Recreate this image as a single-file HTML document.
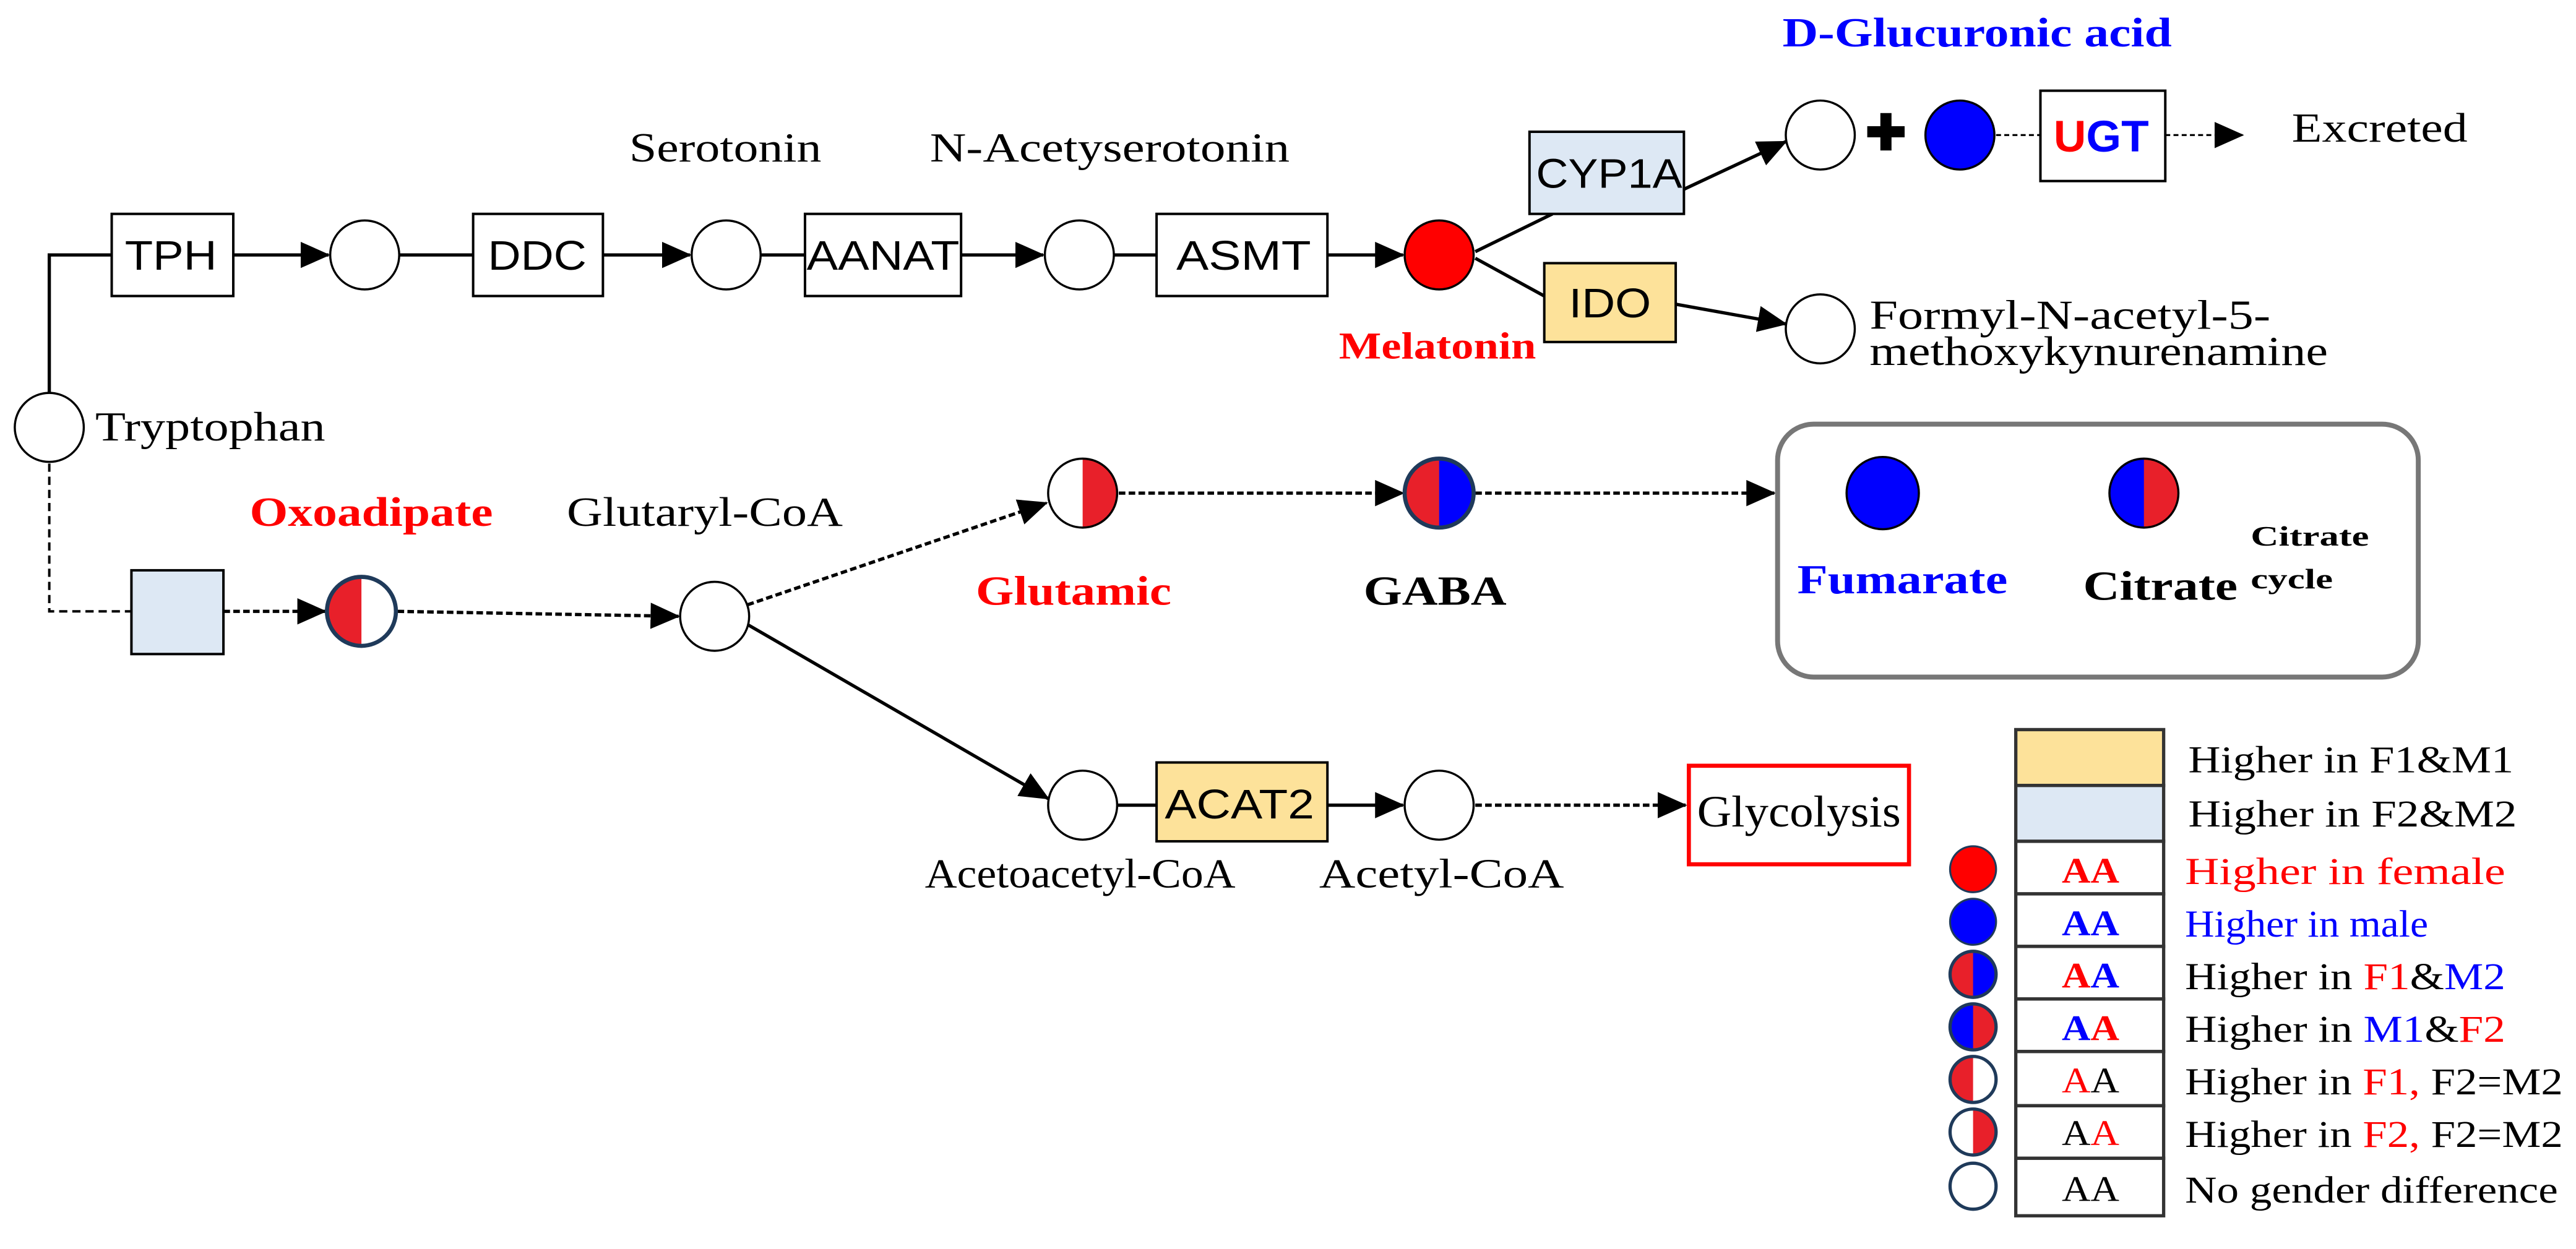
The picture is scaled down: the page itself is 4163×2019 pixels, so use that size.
<!DOCTYPE html>
<html><head><meta charset="utf-8"><style>
html,body{margin:0;padding:0;background:#fff;}
svg{display:block;}
.s{font-family:"Liberation Serif",serif;}
.a{font-family:"Liberation Sans",sans-serif;}
</style></head><body>
<svg width="4163" height="2019" viewBox="0 0 1568 760" xmlns="http://www.w3.org/2000/svg">
<defs>
<marker id="a2" markerWidth="18" markerHeight="16" refX="17" refY="8" orient="auto" markerUnits="userSpaceOnUse">
<path d="M0,0 L18,8 L0,16 Z" fill="#000"/></marker>
</defs>
<g stroke="#000" stroke-width="2" fill="none">
<polyline points="30,239 30,155 68,155"/>
<line x1="142" y1="155" x2="200" y2="155" marker-end="url(#a2)"/>
<line x1="243" y1="155" x2="288" y2="155"/>
<line x1="367" y1="155" x2="420" y2="155" marker-end="url(#a2)"/>
<line x1="463" y1="155" x2="490" y2="155"/>
<line x1="585" y1="155" x2="635" y2="155" marker-end="url(#a2)"/>
<line x1="678" y1="155" x2="704" y2="155"/>
<line x1="808" y1="155" x2="854" y2="155" marker-end="url(#a2)"/>
<line x1="898" y1="153" x2="945" y2="130"/>
<line x1="898" y1="157" x2="940" y2="180"/>
<line x1="1025" y1="115" x2="1087" y2="86" marker-end="url(#a2)"/>
<line x1="1020" y1="185" x2="1087" y2="197" marker-end="url(#a2)"/>
<line x1="1215" y1="82" x2="1242" y2="82" stroke-width="1.2" stroke-dasharray="3,2"/>
<line x1="1318" y1="82" x2="1365" y2="82" stroke-width="1.2" stroke-dasharray="3,2" marker-end="url(#a2)"/>
<polyline points="30,282 30,372 80,372" stroke-width="1.5" stroke-dasharray="5,3"/>
<line x1="136" y1="372" x2="198" y2="372" stroke-dasharray="4,2" marker-end="url(#a2)"/>
<line x1="242" y1="372" x2="413" y2="375" stroke-dasharray="4,2" marker-end="url(#a2)"/>
<line x1="455" y1="368" x2="637" y2="306" stroke-dasharray="4,2" marker-end="url(#a2)"/>
<line x1="681" y1="300" x2="854" y2="300" stroke-dasharray="4,2" marker-end="url(#a2)"/>
<line x1="898" y1="300" x2="1080" y2="300" stroke-dasharray="4,2" marker-end="url(#a2)"/>
<line x1="455" y1="380" x2="638" y2="486" marker-end="url(#a2)"/>
<line x1="680" y1="490" x2="704" y2="490"/>
<line x1="808" y1="490" x2="854" y2="490" marker-end="url(#a2)"/>
<line x1="898" y1="490" x2="1026" y2="490" stroke-dasharray="4,2" marker-end="url(#a2)"/>
</g>
<g stroke="#000" stroke-width="1.5">
<rect x="68" y="130" width="74" height="50" fill="#fff"/>
<rect x="288" y="130" width="79" height="50" fill="#fff"/>
<rect x="490" y="130" width="95" height="50" fill="#fff"/>
<rect x="704" y="130" width="104" height="50" fill="#fff"/>
<rect x="931" y="80" width="94" height="50" fill="#dde8f4"/>
<rect x="940" y="160" width="80" height="48" fill="#fde29a"/>
<rect x="1242" y="55" width="76" height="55" fill="#fff"/>
<rect x="80" y="347" width="56" height="51" fill="#dde8f4"/>
<rect x="704" y="464" width="104" height="48" fill="#fde29a"/>
</g>
<rect x="1028" y="466" width="134" height="60" fill="#fff" stroke="#f00" stroke-width="2.5"/>
<rect x="1082" y="258" width="390" height="154" rx="22" fill="#fff" stroke="#777" stroke-width="3"/>
<g stroke="#000" stroke-width="1.3" fill="#fff">
<circle cx="30" cy="260" r="21"/>
<circle cx="222" cy="155" r="21"/>
<circle cx="442" cy="155" r="21"/>
<circle cx="657" cy="155" r="21"/>
<circle cx="876" cy="155" r="21" fill="#f00"/>
<circle cx="1108" cy="82" r="21"/>
<circle cx="1193" cy="82" r="21" fill="#00f"/>
<circle cx="1108" cy="200" r="21"/>
<circle cx="435" cy="375" r="21"/>
<circle cx="659" cy="490" r="21"/>
<circle cx="876" cy="490" r="21"/>
<circle cx="1146" cy="300" r="22" fill="#00f"/>
</g>
<g>
<circle cx="220" cy="372" r="21" fill="#fff"/><path d="M220,351 A21,21 0 0 0 220,393 Z" fill="#e8202a"/><circle cx="220" cy="372" r="21" fill="none" stroke="#1f3a5a" stroke-width="2.5"/>
<circle cx="659" cy="300" r="21" fill="#fff"/><path d="M659,279 A21,21 0 0 1 659,321 Z" fill="#e8202a"/><circle cx="659" cy="300" r="21" fill="none" stroke="#000" stroke-width="1.3"/>
<circle cx="876" cy="300" r="21" fill="#00f"/><path d="M876,279 A21,21 0 0 0 876,321 Z" fill="#e8202a"/><circle cx="876" cy="300" r="21" fill="none" stroke="#1f3a5a" stroke-width="2.5"/>
<circle cx="1305" cy="300" r="21" fill="#e8202a"/><path d="M1305,279 A21,21 0 0 0 1305,321 Z" fill="#00f"/><circle cx="1305" cy="300" r="21" fill="none" stroke="#000" stroke-width="1.3"/>
</g>
<text x="1148" y="91" font-size="30" font-weight="bold" text-anchor="middle" class="a">✚</text>
<g class="a" font-size="25">
<text x="76" y="164" textLength="56" lengthAdjust="spacingAndGlyphs">TPH</text>
<text x="297" y="164" textLength="60" lengthAdjust="spacingAndGlyphs">DDC</text>
<text x="491" y="164" textLength="93" lengthAdjust="spacingAndGlyphs">AANAT</text>
<text x="716" y="164" textLength="82" lengthAdjust="spacingAndGlyphs">ASMT</text>
<text x="935" y="114" textLength="89" lengthAdjust="spacingAndGlyphs">CYP1A</text>
<text x="955" y="193" textLength="50" lengthAdjust="spacingAndGlyphs">IDO</text>
<text x="709" y="498" textLength="91" lengthAdjust="spacingAndGlyphs">ACAT2</text>
<text x="1250" y="92" font-size="27" font-weight="bold" textLength="58" lengthAdjust="spacingAndGlyphs"><tspan fill="#f00">U</tspan><tspan fill="#00f">GT</tspan></text>
</g>
<g class="s" font-size="25">
<text x="58" y="268" textLength="140" lengthAdjust="spacingAndGlyphs">Tryptophan</text>
<text x="383" y="98" textLength="117" lengthAdjust="spacingAndGlyphs">Serotonin</text>
<text x="566" y="98" textLength="219" lengthAdjust="spacingAndGlyphs">N-Acetyserotonin</text>
<text x="1395" y="86" textLength="107" lengthAdjust="spacingAndGlyphs">Excreted</text>
<text x="1138" y="200" textLength="244" lengthAdjust="spacingAndGlyphs">Formyl-N-acetyl-5-</text>
<text x="1138" y="222" textLength="279" lengthAdjust="spacingAndGlyphs">methoxykynurenamine</text>
<text x="345" y="320" textLength="168" lengthAdjust="spacingAndGlyphs">Glutaryl-CoA</text>
<text x="563" y="540" textLength="189" lengthAdjust="spacingAndGlyphs">Acetoacetyl-CoA</text>
<text x="803" y="540" textLength="149" lengthAdjust="spacingAndGlyphs">Acetyl-CoA</text>
<text x="1033" y="503" font-size="27" textLength="124" lengthAdjust="spacingAndGlyphs">Glycolysis</text>
<text x="1085" y="28" fill="#00f" font-weight="bold" textLength="237" lengthAdjust="spacingAndGlyphs">D-Glucuronic acid</text>
<text x="815" y="218" fill="#f00" font-weight="bold" font-size="23" textLength="120" lengthAdjust="spacingAndGlyphs">Melatonin</text>
<text x="152" y="320" fill="#f00" font-weight="bold" textLength="148" lengthAdjust="spacingAndGlyphs">Oxoadipate</text>
<text x="594" y="368" fill="#f00" font-weight="bold" textLength="119" lengthAdjust="spacingAndGlyphs">Glutamic</text>
<text x="830" y="368" font-weight="bold" textLength="87" lengthAdjust="spacingAndGlyphs">GABA</text>
<text x="1094" y="361" fill="#00f" font-weight="bold" textLength="128" lengthAdjust="spacingAndGlyphs">Fumarate</text>
<text x="1268" y="365" font-weight="bold" textLength="94" lengthAdjust="spacingAndGlyphs">Citrate</text>
<text x="1370" y="332" font-weight="bold" font-size="17" textLength="72" lengthAdjust="spacingAndGlyphs">Citrate</text>
<text x="1370" y="358" font-weight="bold" font-size="17" textLength="50" lengthAdjust="spacingAndGlyphs">cycle</text>
</g>
<g stroke="#333" stroke-width="2">
<rect x="1227" y="444" width="90" height="34" fill="#fde29a"/>
<rect x="1227" y="478" width="90" height="34" fill="#dde8f4"/>
<rect x="1227" y="512" width="90" height="32" fill="#fff"/>
<rect x="1227" y="544" width="90" height="32" fill="#fff"/>
<rect x="1227" y="576" width="90" height="32" fill="#fff"/>
<rect x="1227" y="608" width="90" height="32" fill="#fff"/>
<rect x="1227" y="640" width="90" height="33" fill="#fff"/>
<rect x="1227" y="673" width="90" height="32" fill="#fff"/>
<rect x="1227" y="705" width="90" height="35" fill="#fff"/>
</g>
<g>
<circle cx="1201" cy="529" r="14" fill="#f00" stroke="#1f3a5a" stroke-width="1.2"/>
<circle cx="1201" cy="561" r="14" fill="#00f" stroke="#1f3a5a" stroke-width="1.2"/>
<circle cx="1201" cy="593" r="14" fill="#00f"/><path d="M1201,579 A14,14 0 0 0 1201,607 Z" fill="#e8202a"/><circle cx="1201" cy="593" r="14" fill="none" stroke="#1f3a5a" stroke-width="2"/>
<circle cx="1201" cy="625" r="14" fill="#e8202a"/><path d="M1201,611 A14,14 0 0 0 1201,639 Z" fill="#00f"/><circle cx="1201" cy="625" r="14" fill="none" stroke="#1f3a5a" stroke-width="2"/>
<circle cx="1201" cy="657" r="14" fill="#fff"/><path d="M1201,643 A14,14 0 0 0 1201,671 Z" fill="#e8202a"/><circle cx="1201" cy="657" r="14" fill="none" stroke="#1f3a5a" stroke-width="2"/>
<circle cx="1201" cy="689" r="14" fill="#fff"/><path d="M1201,675 A14,14 0 0 1 1201,703 Z" fill="#e8202a"/><circle cx="1201" cy="689" r="14" fill="none" stroke="#1f3a5a" stroke-width="2"/>
<circle cx="1201" cy="722" r="14" fill="#fff" stroke="#1f3a5a" stroke-width="2"/>
</g>
<g class="s" font-size="22">
<text x="1255" y="537" font-weight="bold" fill="#f00" textLength="35" lengthAdjust="spacingAndGlyphs">AA</text>
<text x="1255" y="569" font-weight="bold" fill="#00f" textLength="35" lengthAdjust="spacingAndGlyphs">AA</text>
<text x="1255" y="601" font-weight="bold" textLength="35" lengthAdjust="spacingAndGlyphs"><tspan fill="#f00">A</tspan><tspan fill="#00f">A</tspan></text>
<text x="1255" y="633" font-weight="bold" textLength="35" lengthAdjust="spacingAndGlyphs"><tspan fill="#00f">A</tspan><tspan fill="#f00">A</tspan></text>
<text x="1255" y="665" textLength="35" lengthAdjust="spacingAndGlyphs"><tspan fill="#f00">A</tspan><tspan fill="#000">A</tspan></text>
<text x="1255" y="697" textLength="35" lengthAdjust="spacingAndGlyphs"><tspan fill="#000">A</tspan><tspan fill="#f00">A</tspan></text>
<text x="1255" y="731" textLength="35" lengthAdjust="spacingAndGlyphs">AA</text>
</g>
<g class="s" font-size="23">
<text x="1332" y="470" textLength="198" lengthAdjust="spacingAndGlyphs">Higher in F1&amp;M1</text>
<text x="1332" y="503" textLength="200" lengthAdjust="spacingAndGlyphs">Higher in F2&amp;M2</text>
<text x="1330" y="538" fill="#f00" textLength="195" lengthAdjust="spacingAndGlyphs">Higher in female</text>
<text x="1330" y="570" fill="#00f" textLength="148" lengthAdjust="spacingAndGlyphs">Higher in male</text>
<text x="1330" y="602" textLength="195" lengthAdjust="spacingAndGlyphs">Higher in <tspan fill="#f00">F1</tspan>&amp;<tspan fill="#00f">M2</tspan></text>
<text x="1330" y="634" textLength="195" lengthAdjust="spacingAndGlyphs">Higher in <tspan fill="#00f">M1</tspan>&amp;<tspan fill="#f00">F2</tspan></text>
<text x="1330" y="666" textLength="230" lengthAdjust="spacingAndGlyphs">Higher in <tspan fill="#f00">F1,</tspan> F2=M2</text>
<text x="1330" y="698" textLength="230" lengthAdjust="spacingAndGlyphs">Higher in <tspan fill="#f00">F2,</tspan> F2=M2</text>
<text x="1330" y="732" textLength="227" lengthAdjust="spacingAndGlyphs">No gender difference</text>
</g>
</svg>
</body></html>
